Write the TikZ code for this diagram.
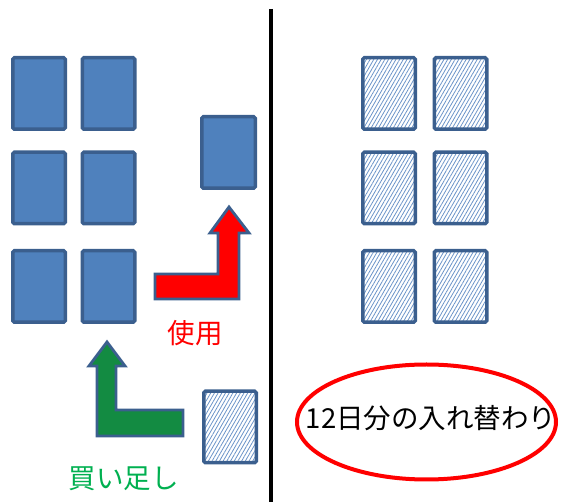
\documentclass[tikz,border=0pt]{standalone}
\usepackage{fontspec}
\newfontfamily\jp{Noto Sans CJK JP}
\usetikzlibrary{patterns.meta,shapes.geometric}
\definecolor{boxfill}{HTML}{4F81BD}
\definecolor{boxline}{HTML}{3B5F8E}
\definecolor{hatchc}{HTML}{6A93C8}
\definecolor{arrgreen}{HTML}{138B42}
\definecolor{txtgreen}{HTML}{00B050}
\begin{document}
\begin{tikzpicture}[x=1pt,y=-1pt,
  solidbox/.style={draw=boxline, line width=3.5pt, fill=boxfill, rounded corners=1.5pt,
    minimum width=52.5pt, minimum height=71.5pt, inner sep=0pt},
  hatchbox/.style={draw=boxline, line width=3.5pt, rounded corners=1.5pt,
    pattern={Lines[angle=60,distance=3.2pt,line width=0.8pt]}, pattern color=hatchc,
    minimum width=52.5pt, minimum height=71.5pt, inner sep=0pt},
  blockarrow/.style={draw=boxline, line width=2.8pt, line join=miter},
  jtext/.style={font=\jp\fontsize{27.5}{30}\selectfont, inner sep=0pt}
]
\useasboundingbox (0,0) rectangle (563,502);
% left grid
\node[solidbox] (l11) at (39,93.5) {};
\node[solidbox] (l12) at (108.5,93.5) {};
\node[solidbox] (l21) at (39,188) {};
\node[solidbox] (l22) at (108.5,188) {};
\node[solidbox] (l31) at (39,286.5) {};
\node[solidbox] (l32) at (108.5,286.5) {};
\node[solidbox, minimum width=53.5pt] (used) at (228.5,152.5) {};
\node[hatchbox] (new) at (230,427) {};
% red arrow
\draw[blockarrow, fill=red] (155,274) -- (218,274) -- (218,233) -- (210,233) -- (229,207)
  -- (249,233) -- (239,233) -- (239,299) -- (155,299) -- cycle;
% green arrow
\draw[blockarrow, fill=arrgreen] (107,342) -- (125,366) -- (116,366) -- (116,410) -- (183,410)
  -- (183,436) -- (97,436) -- (97,366) -- (89,366) -- cycle;
\node[jtext, text=red] (tuse) at (195,333.5) {使用};
\node[jtext, text=txtgreen] (tbuy) at (123.5,479) {買い足し};
% divider
\coordinate (dtop) at (270.5,9);
\coordinate (dbot) at (270.5,502);
\draw[line width=4pt] (dtop) -- (dbot);
% right grid
\node[hatchbox] (r11) at (389,93.5) {};
\node[hatchbox] (r12) at (460.5,93.5) {};
\node[hatchbox] (r21) at (389,188) {};
\node[hatchbox] (r22) at (460.5,188) {};
\node[hatchbox] (r31) at (389,286.5) {};
\node[hatchbox] (r32) at (460.5,286.5) {};
% ellipse
\node[ellipse, draw=red, line width=4pt, minimum width=259pt, minimum height=115pt, inner sep=0pt] (ell) at (426.5,422) {};
\node[jtext, text=black] (tswap) at (431,418.5) {12日分の入れ替わり};
\end{tikzpicture}
\end{document}
